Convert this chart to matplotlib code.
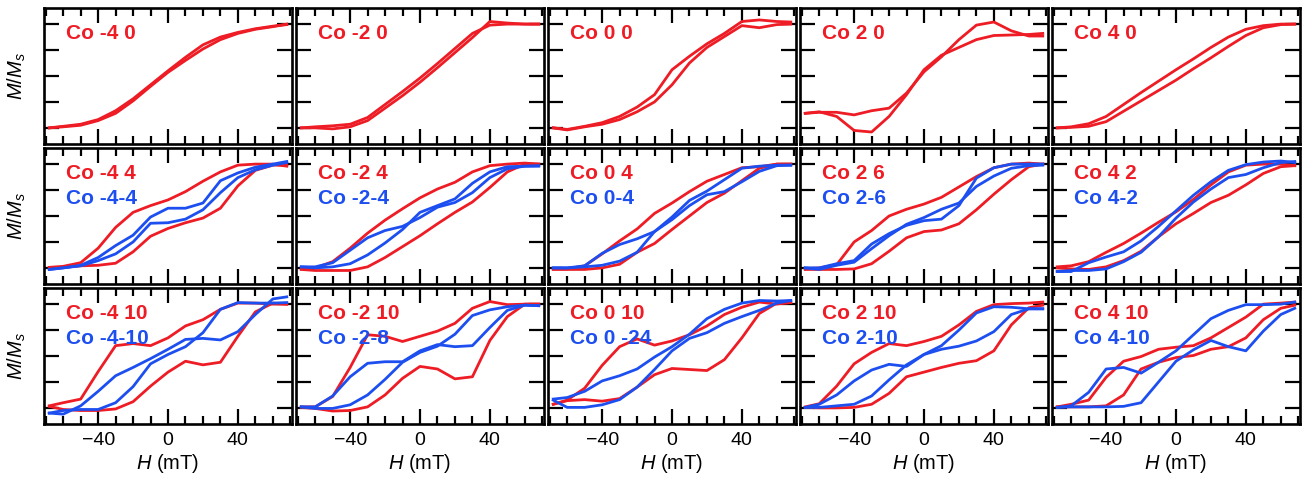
import matplotlib
matplotlib.use("Agg")
import matplotlib.pyplot as plt
from matplotlib.ticker import MultipleLocator

plt.rcParams['font.family'] = ['Liberation Sans', 'DejaVu Sans']
plt.rcParams['mathtext.fontset'] = 'custom'
plt.rcParams['mathtext.rm'] = 'Liberation Sans'
plt.rcParams['mathtext.it'] = 'Liberation Sans:italic'

RED = '#ee1c25'
BLUE = '#1d4ff0'

# field grid (mT), shared by every branch
H = [-68, -60, -50, -40, -30, -20, -10, 0, 10, 20, 30, 40, 50, 60, 68]

# ---- row 1 : single loops ----
m_40_a = [-1.0, -0.97, -0.93, -0.84, -0.67, -0.44, -0.17, 0.10, 0.36, 0.60, 0.75, 0.84, 0.91, 0.96, 0.99]
m_40_b = [-1.0, -0.98, -0.95, -0.86, -0.72, -0.48, -0.20, 0.07, 0.30, 0.52, 0.70, 0.82, 0.90, 0.95, 1.0]
m_20_a = [-1.0, -1.0, -1.02, -0.98, -0.86, -0.62, -0.38, -0.12, 0.16, 0.45, 0.74, 1.05, 1.02, 1.0, 1.0]
m_20_b = [-1.0, -0.98, -0.96, -0.93, -0.80, -0.55, -0.30, -0.04, 0.24, 0.53, 0.82, 0.98, 1.0, 1.0, 1.0]
m_00_a = [-1.0, -1.03, -0.97, -0.90, -0.78, -0.60, -0.36, 0.12, 0.38, 0.62, 0.82, 1.05, 1.08, 1.05, 1.04]
m_00_b = [-1.0, -1.04, -0.98, -0.93, -0.84, -0.69, -0.50, -0.17, 0.25, 0.55, 0.76, 0.97, 0.93, 0.99, 1.0]
m_p20_a = [-0.72, -0.70, -0.70, -0.75, -0.67, -0.62, -0.33, 0.08, 0.37, 0.70, 0.98, 1.04, 0.87, 0.77, 0.77]
m_p20_b = [-0.72, -0.69, -0.78, -1.05, -1.08, -0.78, -0.36, 0.12, 0.40, 0.55, 0.70, 0.78, 0.79, 0.80, 0.82]
m_p40_a = [-1.0, -0.98, -0.92, -0.78, -0.55, -0.32, -0.10, 0.12, 0.33, 0.55, 0.75, 0.90, 0.97, 1.0, 1.0]
m_p40_b = [-1.0, -0.99, -0.97, -0.88, -0.68, -0.48, -0.28, -0.08, 0.14, 0.35, 0.57, 0.78, 0.93, 0.99, 1.0]

# ---- row 2 : red / blue loops ----
r_44_a = [-0.99, -0.97, -0.90, -0.62, -0.22, 0.07, 0.20, 0.31, 0.47, 0.67, 0.85, 0.98, 1.0, 1.0, 0.96]
r_44_b = [-1.0, -0.99, -0.96, -0.95, -0.91, -0.69, -0.39, -0.24, -0.13, -0.04, 0.15, 0.58, 0.88, 0.98, 0.98]
b_44_a = [-1.03, -1.0, -0.95, -0.80, -0.57, -0.37, -0.02, 0.15, 0.15, 0.25, 0.68, 0.83, 0.94, 1.0, 1.05]
b_44_b = [-1.03, -1.0, -0.96, -0.86, -0.73, -0.50, -0.14, -0.13, -0.06, 0.12, 0.45, 0.74, 0.89, 0.98, 1.03]

r_24_a = [-1.02, -1.0, -0.88, -0.62, -0.33, -0.08, 0.14, 0.35, 0.52, 0.65, 0.85, 0.97, 1.0, 1.02, 1.0]
r_24_b = [-1.03, -1.05, -1.05, -1.05, -0.98, -0.80, -0.59, -0.38, -0.15, 0.07, 0.27, 0.55, 0.85, 1.0, 1.0]
b_24_a = [-0.98, -0.98, -0.90, -0.66, -0.42, -0.28, -0.20, -0.03, 0.17, 0.26, 0.45, 0.74, 0.91, 0.96, 0.96]
b_24_b = [-0.98, -1.0, -0.98, -0.92, -0.75, -0.52, -0.26, 0.07, 0.20, 0.33, 0.63, 0.85, 0.95, 0.96, 0.97]

r_04_a = [-1.02, -1.02, -0.96, -0.73, -0.48, -0.25, 0.05, 0.25, 0.47, 0.67, 0.80, 0.93, 0.95, 1.0, 1.0]
r_04_b = [-1.03, -1.03, -1.03, -1.0, -0.93, -0.70, -0.53, -0.26, 0.0, 0.26, 0.44, 0.68, 0.92, 1.0, 1.0]
b_04_a = [-1.0, -1.0, -0.96, -0.72, -0.55, -0.44, -0.30, -0.02, 0.30, 0.48, 0.70, 0.92, 0.96, 0.98, 0.98]
b_04_b = [-1.0, -1.0, -0.98, -0.95, -0.87, -0.70, -0.30, -0.07, 0.20, 0.41, 0.47, 0.66, 0.86, 0.97, 0.98]

r_26_a = [-1.02, -1.0, -0.94, -0.50, -0.28, 0.0, 0.13, 0.23, 0.36, 0.56, 0.76, 0.93, 1.0, 1.02, 1.0]
r_26_b = [-1.03, -1.03, -1.03, -1.02, -0.92, -0.68, -0.42, -0.30, -0.27, -0.15, 0.12, 0.42, 0.70, 0.95, 1.0]
b_26_a = [-1.0, -1.03, -0.95, -0.89, -0.63, -0.38, -0.16, -0.03, 0.13, 0.25, 0.57, 0.77, 0.92, 0.97, 0.98]
b_26_b = [-1.0, -1.0, -0.92, -0.86, -0.54, -0.34, -0.18, -0.09, -0.06, 0.20, 0.73, 0.93, 1.0, 1.0, 1.0]

r_42_a = [-0.98, -0.96, -0.88, -0.70, -0.53, -0.33, -0.12, 0.08, 0.32, 0.60, 0.85, 0.98, 1.0, 1.0, 0.97]
r_42_b = [-1.0, -1.02, -1.03, -0.98, -0.86, -0.68, -0.40, -0.15, 0.05, 0.26, 0.40, 0.60, 0.82, 0.95, 0.97]
b_42_a = [-1.07, -1.07, -0.90, -0.79, -0.69, -0.48, -0.20, 0.10, 0.40, 0.66, 0.88, 0.99, 1.04, 1.06, 1.03]
b_42_b = [-1.07, -1.05, -1.05, -1.02, -0.88, -0.70, -0.40, -0.04, 0.27, 0.52, 0.74, 0.80, 0.93, 1.03, 1.05]

# ---- row 3 : red / blue loops ----
r_410_a = [-0.96, -0.90, -0.83, -0.30, 0.20, 0.24, 0.20, 0.35, 0.58, 0.70, 0.90, 1.02, 1.02, 1.0, 1.0]
r_410_b = [-0.97, -1.03, -1.05, -1.05, -1.02, -0.88, -0.58, -0.31, -0.10, -0.17, -0.12, 0.38, 0.85, 1.02, 1.0]
b_410_a = [-1.10, -1.12, -0.96, -0.68, -0.38, -0.22, -0.05, 0.13, 0.32, 0.34, 0.31, 0.47, 0.80, 1.10, 1.14]
b_410_b = [-1.10, -1.05, -1.03, -1.03, -0.90, -0.59, -0.15, 0.03, 0.18, 0.45, 0.90, 1.03, 1.02, 1.02, 1.03]

r_210_a = [-0.98, -0.98, -0.78, -0.22, 0.41, 0.38, 0.28, 0.38, 0.48, 0.63, 0.92, 1.05, 0.99, 1.0, 1.0]
r_210_b = [-0.99, -1.01, -1.06, -1.05, -0.98, -0.75, -0.43, -0.20, -0.25, -0.44, -0.40, 0.30, 0.76, 1.0, 1.0]
b_28_a = [-0.98, -0.98, -0.77, -0.40, -0.14, -0.11, -0.11, 0.10, 0.22, 0.18, 0.20, 0.55, 0.88, 0.98, 0.97]
b_28_b = [-0.98, -1.01, -1.01, -0.94, -0.75, -0.45, -0.12, 0.07, 0.19, 0.42, 0.78, 0.89, 0.95, 0.98, 0.97]

r_010_a = [-0.93, -0.85, -0.62, -0.18, 0.18, 0.33, 0.21, 0.29, 0.41, 0.58, 0.80, 0.94, 1.04, 1.0, 1.03]
r_010_b = [-0.93, -0.86, -0.84, -0.87, -0.82, -0.60, -0.36, -0.24, -0.26, -0.28, -0.07, 0.35, 0.82, 1.02, 1.03]
b_024_a = [-0.83, -0.80, -0.68, -0.48, -0.38, -0.25, -0.02, 0.18, 0.42, 0.72, 0.90, 1.02, 1.07, 1.06, 1.07]
b_024_b = [-0.85, -0.99, -0.99, -0.94, -0.84, -0.60, -0.26, 0.10, 0.34, 0.45, 0.63, 0.76, 0.88, 1.02, 1.07]

r_p210_a = [-0.98, -0.92, -0.58, -0.15, 0.07, 0.24, 0.20, 0.28, 0.38, 0.60, 0.86, 0.99, 1.01, 1.02, 1.04]
r_p210_b = [-0.99, -1.0, -1.0, -0.99, -0.93, -0.72, -0.40, -0.31, -0.22, -0.14, -0.09, 0.10, 0.60, 0.93, 0.98]
b_p210_a = [-0.99, -0.93, -0.75, -0.48, -0.27, -0.16, -0.20, 0.03, 0.13, 0.19, 0.29, 0.47, 0.80, 0.91, 0.91]
b_p210_b = [-0.99, -0.99, -0.96, -0.93, -0.77, -0.46, -0.17, 0.03, 0.20, 0.50, 0.83, 0.95, 0.94, 0.91, 0.91]

r_p410_a = [-0.98, -0.93, -0.85, -0.41, -0.10, -0.01, 0.13, 0.17, 0.20, 0.35, 0.55, 0.75, 1.0, 1.02, 1.04]
r_p410_b = [-0.98, -0.98, -0.98, -0.96, -0.75, -0.25, -0.12, -0.03, 0.01, 0.13, 0.18, 0.35, 0.70, 0.92, 0.98]
b_p410_a = [-0.99, -0.96, -0.70, -0.25, -0.22, -0.33, -0.12, 0.10, 0.41, 0.72, 0.88, 0.99, 0.99, 1.0, 1.04]
b_p410_b = [-0.99, -0.98, -0.98, -0.98, -0.97, -0.90, -0.50, -0.10, 0.12, 0.30, 0.18, 0.10, 0.48, 0.80, 0.92]

red_labels = [["Co -4 0", "Co -2 0", "Co 0 0", "Co 2 0", "Co 4 0"],
              ["Co -4 4", "Co -2 4", "Co 0 4", "Co 2 6", "Co 4 2"],
              ["Co -4 10", "Co -2 10", "Co 0 10", "Co 2 10", "Co 4 10"]]
blue_labels = [None,
               ["Co -4-4", "Co -2-4", "Co 0-4", "Co 2-6", "Co 4-2"],
               ["Co -4-10", "Co -2-8", "Co 0 -24", "Co 2-10", "Co 4-10"]]

red_curves = [[(m_40_a, m_40_b), (m_20_a, m_20_b), (m_00_a, m_00_b), (m_p20_a, m_p20_b), (m_p40_a, m_p40_b)],
              [(r_44_a, r_44_b), (r_24_a, r_24_b), (r_04_a, r_04_b), (r_26_a, r_26_b), (r_42_a, r_42_b)],
              [(r_410_a, r_410_b), (r_210_a, r_210_b), (r_010_a, r_010_b), (r_p210_a, r_p210_b), (r_p410_a, r_p410_b)]]
blue_curves = [None,
               [(b_44_a, b_44_b), (b_24_a, b_24_b), (b_04_a, b_04_b), (b_26_a, b_26_b), (b_42_a, b_42_b)],
               [(b_410_a, b_410_b), (b_28_a, b_28_b), (b_024_a, b_024_b), (b_p210_a, b_p210_b), (b_p410_a, b_p410_b)]]

fig, axes = plt.subplots(3, 5, figsize=(13.09, 4.91), dpi=100)
fig.subplots_adjust(left=44/1309, right=1300/1309, top=1-8/491, bottom=1-424/491,
                    wspace=0.016, hspace=0.03)

for row in range(3):
    for col in range(5):
        ax = axes[row, col]
        lw = 2.0
        if blue_curves[row] is not None:
            for br in blue_curves[row][col]:
                ax.plot(H, br, color=BLUE, lw=lw, solid_joinstyle='round', zorder=3)
        for br in red_curves[row][col]:
            ax.plot(H, br, color=RED, lw=lw, solid_joinstyle='round', zorder=2)

        ax.set_xlim(-71, 71)
        ax.set_ylim(-1.31, 1.31)
        ax.xaxis.set_major_locator(MultipleLocator(40))
        ax.xaxis.set_minor_locator(MultipleLocator(10))
        ax.yaxis.set_major_locator(MultipleLocator(0.5))
        ax.yaxis.set_minor_locator(plt.NullLocator())
        ax.tick_params(which='both', direction='in', top=True, right=True, width=1.6)
        ax.tick_params(which='major', length=10.5)
        ax.tick_params(which='minor', length=5.5)
        ax.tick_params(axis='x', labelsize=14, pad=6)
        ax.set_yticklabels([])
        for s in ax.spines.values():
            s.set_linewidth(1.9)
        if row < 2:
            ax.set_xticklabels([])
        else:
            ax.set_xlabel(r'$H$ (mT)', fontsize=14.5, labelpad=2)
        if col == 0:
            ax.set_ylabel(r'$M/M_s$', fontsize=14.5, labelpad=8)

        ax.text(0.09, 0.815, red_labels[row][col], transform=ax.transAxes,
                color=RED, fontsize=15, fontweight='bold', va='center', ha='left', zorder=5)
        if blue_labels[row] is not None:
            ax.text(0.09, 0.63, blue_labels[row][col], transform=ax.transAxes,
                    color=BLUE, fontsize=15, fontweight='bold', va='center', ha='left', zorder=5)

fig.savefig("out.png", dpi=100)
